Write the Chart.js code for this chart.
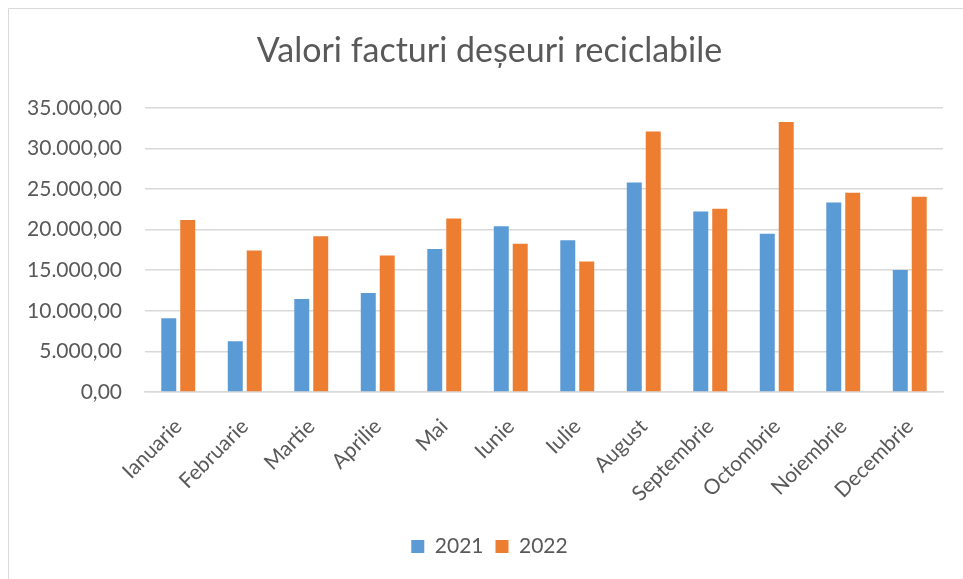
<!DOCTYPE html>
<html>
<head>
<meta charset="utf-8">
<script src="https://cdn.jsdelivr.net/npm/chart.js@4/dist/chart.umd.min.js"></script>
<style>
  html, body { margin: 0; padding: 0; background: #fff; }
  #grafico { display: block; }
</style>
</head>
<body>
<canvas id="grafico" width="963" height="579"></canvas>
<script>
// DADOS DO GRÁFICO
const luni = ['Ianuarie', 'Februarie', 'Martie', 'Aprilie', 'Mai', 'Iunie', 'Iulie',
              'August', 'Septembrie', 'Octombrie', 'Noiembrie', 'Decembrie'];
const valori2021 = [9080, 6250, 11450, 12180, 17620, 20400, 18680, 25800, 22240, 19500, 23340, 15040];
const valori2022 = [21180, 17420, 19170, 16800, 21380, 18270, 16070, 32090, 22570, 33240, 24530, 24040];
const ani = ['2021', '2022'];

const textColor = '#595959';
const fontFamily = 'Lato, "Open Sans", sans-serif';

// 35.000,00
function formatRo(v) {
    let parts = v.toFixed(2).split('.');
    let intPart = parts[0].replace(/\B(?=(\d{3})+(?!\d))/g, '.');
    return intPart + ',' + parts[1];
}

// moldura em volta do gráfico (só aparecem topo e esquerda)
const moldura = {
    id: 'moldura',
    beforeDraw(chart) {
        const ctx = chart.ctx;
        ctx.save();
        ctx.fillStyle = '#ffffff';
        ctx.fillRect(0, 0, chart.width, chart.height);
        ctx.strokeStyle = '#d9d9d9';
        ctx.lineWidth = 1;
        ctx.beginPath();
        ctx.moveTo(8.5, chart.height);
        ctx.lineTo(8.5, 8.5);
        ctx.lineTo(chart.width, 8.5);
        ctx.stroke();
        ctx.restore();
    }
};

let ctx = document.getElementById('grafico').getContext('2d');

let data = {
    labels: luni,
    datasets: [
        {
            label: ani[0],
            data: valori2021,
            backgroundColor: '#5B9BD5',
            categoryPercentage: 0.57,
            barPercentage: 0.79
        },
        {
            label: ani[1],
            data: valori2022,
            backgroundColor: '#ED7D31',
            categoryPercentage: 0.57,
            barPercentage: 0.79
        }
    ]
};

let grafico = new Chart(ctx, {
    type: 'bar',
    data: data,
    plugins: [moldura],
    options: {
        responsive: false,
        animation: false,
        layout: { padding: { left: 16, right: 0, top: 12, bottom: 12 } },
        plugins: {
            title: {
                display: true,
                text: 'Valori facturi deșeuri reciclabile',
                color: textColor,
                font: { family: fontFamily, size: 34, weight: 'normal' },
                padding: { top: 19, bottom: 36 }
            },
            legend: {
                position: 'bottom',
                labels: {
                    color: textColor,
                    font: { family: fontFamily, size: 21 },
                    boxWidth: 13,
                    boxHeight: 13,
                    padding: 12
                }
            },
            tooltip: { enabled: false }
        },
        scales: {
            x: {
                grid: { display: false },
                border: { color: '#d9d9d9', width: 1.5 },
                ticks: {
                    color: textColor,
                    font: { family: fontFamily, size: 21 },
                    minRotation: 45,
                    maxRotation: 45,
                    padding: 14
                },
                afterFit(scale) { scale.height = 132; }
            },
            y: {
                min: 0,
                max: 35000,
                ticks: {
                    stepSize: 5000,
                    color: textColor,
                    font: { family: fontFamily, size: 21 },
                    padding: 23,
                    callback: v => formatRo(v)
                },
                grid: { color: '#d9d9d9', lineWidth: 1.5, drawTicks: false },
                border: { display: false },
                afterFit(scale) { scale.width = 129; }
            },
            // eixo vazio à direita só para a margem
            margem: {
                position: 'right',
                display: true,
                grid: { display: false, drawTicks: false },
                border: { display: false },
                ticks: { display: false },
                afterFit(scale) { scale.width = 20; }
            }
        }
    }
});
</script>
</body>
</html>
